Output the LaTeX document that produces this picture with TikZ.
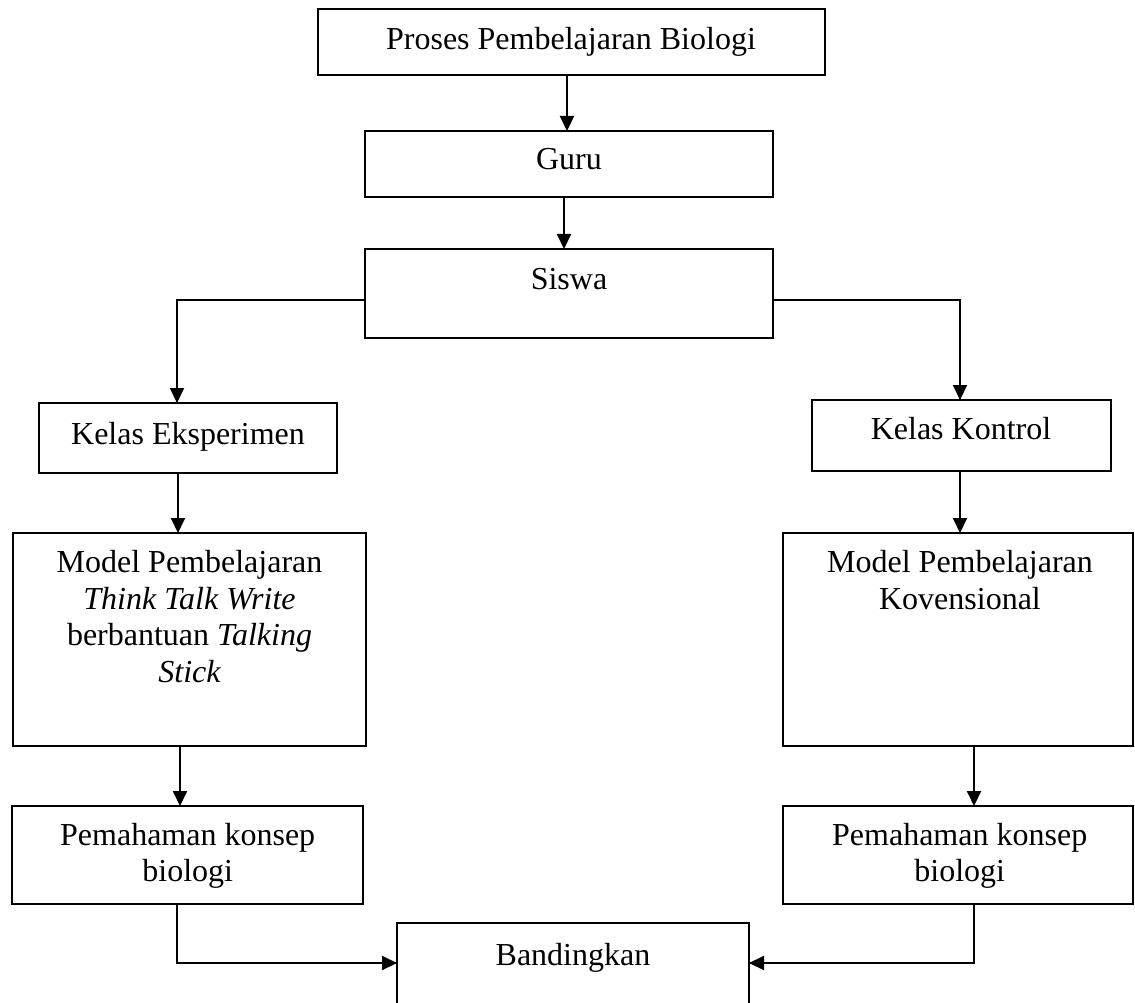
\documentclass[tikz,border=0pt]{standalone}
\usepackage{fontspec}
\setmainfont{Liberation Serif}
\usetikzlibrary{arrows.meta}
\begin{document}
\begin{tikzpicture}[x=1pt,y=-1pt,
  box/.style={draw,line width=1.8pt,inner sep=0pt,outer sep=0pt},
  area/.style={inner sep=0pt,outer sep=0pt},
  txt/.style={inner sep=0pt,anchor=base,font=\fontsize{32}{38}\selectfont},
  arr/.style={line width=2pt,-{Triangle[length=15pt,width=14pt]}},
  thinline/.style={line width=1.1pt},
  sideline/.style={line width=1.4pt}]
\useasboundingbox (0,0) rectangle (1135,1003);
% boxes
\node[box,minimum width=507pt,minimum height=66pt] (top) at (571.5,42) {};
\node[box,minimum width=408pt,minimum height=66pt] (guru) at (569,164) {};
\node[box,minimum width=408pt,minimum height=89pt] (siswa) at (569,293.5) {};
\node[box,minimum width=298pt,minimum height=70pt] (ke) at (188,438) {};
\node[box,minimum width=299pt,minimum height=71pt] (kk) at (961.5,435.5) {};
\node[box,minimum width=353pt,minimum height=213pt] (ml) at (189.5,639.5) {};
\node[box,minimum width=350pt,minimum height=213pt] (mr) at (958,639.5) {};
\node[box,minimum width=351pt,minimum height=98pt] (pl) at (187.5,855) {};
\node[box,minimum width=350pt,minimum height=98pt] (pr) at (958,855) {};
\node[area,minimum width=352pt,minimum height=80pt] (band) at (573,963) {};
\draw[line width=1.8pt] (band.south west) -- (band.north west) -- (band.north east) -- (band.south east);
% texts
\node[txt] (t1) at (571,50) {Proses Pembelajaran Biologi};
\node[txt] (t2) at (569,170) {Guru};
\node[txt] (t3) at (569,289) {Siswa};
\node[txt] (t4) at (188,444) {Kelas Eksperimen};
\node[txt] (t5) at (961,439) {Kelas Kontrol};
\node[txt] (t6a) at (189.5,572.7) {Model Pembelajaran};
\node[txt] (t6b) at (189.5,609) {\itshape Think Talk Write};
\node[txt] (t6c) at (189.5,645.7) {berbantuan \textit{Talking}};
\node[txt] (t6d) at (189.5,682.5) {\itshape Stick};
\node[txt] (t7a) at (960,572.7) {Model Pembelajaran};
\node[txt] (t7b) at (960,609.5) {Kovensional};
\node[txt] (t8a) at (187.7,845.5) {Pemahaman konsep};
\node[txt] (t8b) at (187.7,881.7) {biologi};
\node[txt] (t9a) at (959.7,845.5) {Pemahaman konsep};
\node[txt] (t9b) at (959.7,881.7) {biologi};
\node[txt] (t10) at (573,965) {Bandingkan};
% connectors
\draw[arr] ([xshift=-4.5pt]top.south) -- ([xshift=-4.5pt]top.south |- guru.north);
\draw[arr] ([xshift=-5pt]guru.south) -- ([xshift=-5pt]guru.south |- siswa.north);
\draw[sideline] ([yshift=-6.5pt]siswa.west) -| coordinate[pos=0.5] (cl) ([xshift=-11pt]ke.north);
\draw[arr] (cl) -- ([xshift=-11pt]ke.north);
\draw[sideline] ([yshift=-6.5pt]siswa.east) -| coordinate[pos=0.5] (cr) ([xshift=-1.5pt]kk.north);
\draw[arr] (cr) -- ([xshift=-1.5pt]kk.north);
\draw[arr] ([xshift=-10pt]ke.south) -- ([xshift=-10pt]ke.south |- ml.north);
\draw[arr] ([xshift=-1.5pt]kk.south) -- ([xshift=-1.5pt]kk.south |- mr.north);
\draw[arr] ([xshift=-9.5pt]ml.south) -- ([xshift=-9.5pt]ml.south |- pl.north);
\draw[arr] ([xshift=16pt]mr.south) -- ([xshift=16pt]mr.south |- pr.north);
\draw[thinline] ([xshift=-10.5pt]pl.south) |- coordinate[pos=0.5] (jl) (band.west);
\draw[arr] (jl) -- (band.west);
\draw[thinline] ([xshift=16pt]pr.south) |- coordinate[pos=0.5] (jr) (band.east);
\draw[arr] (jr) -- (band.east);
\end{tikzpicture}
\end{document}
